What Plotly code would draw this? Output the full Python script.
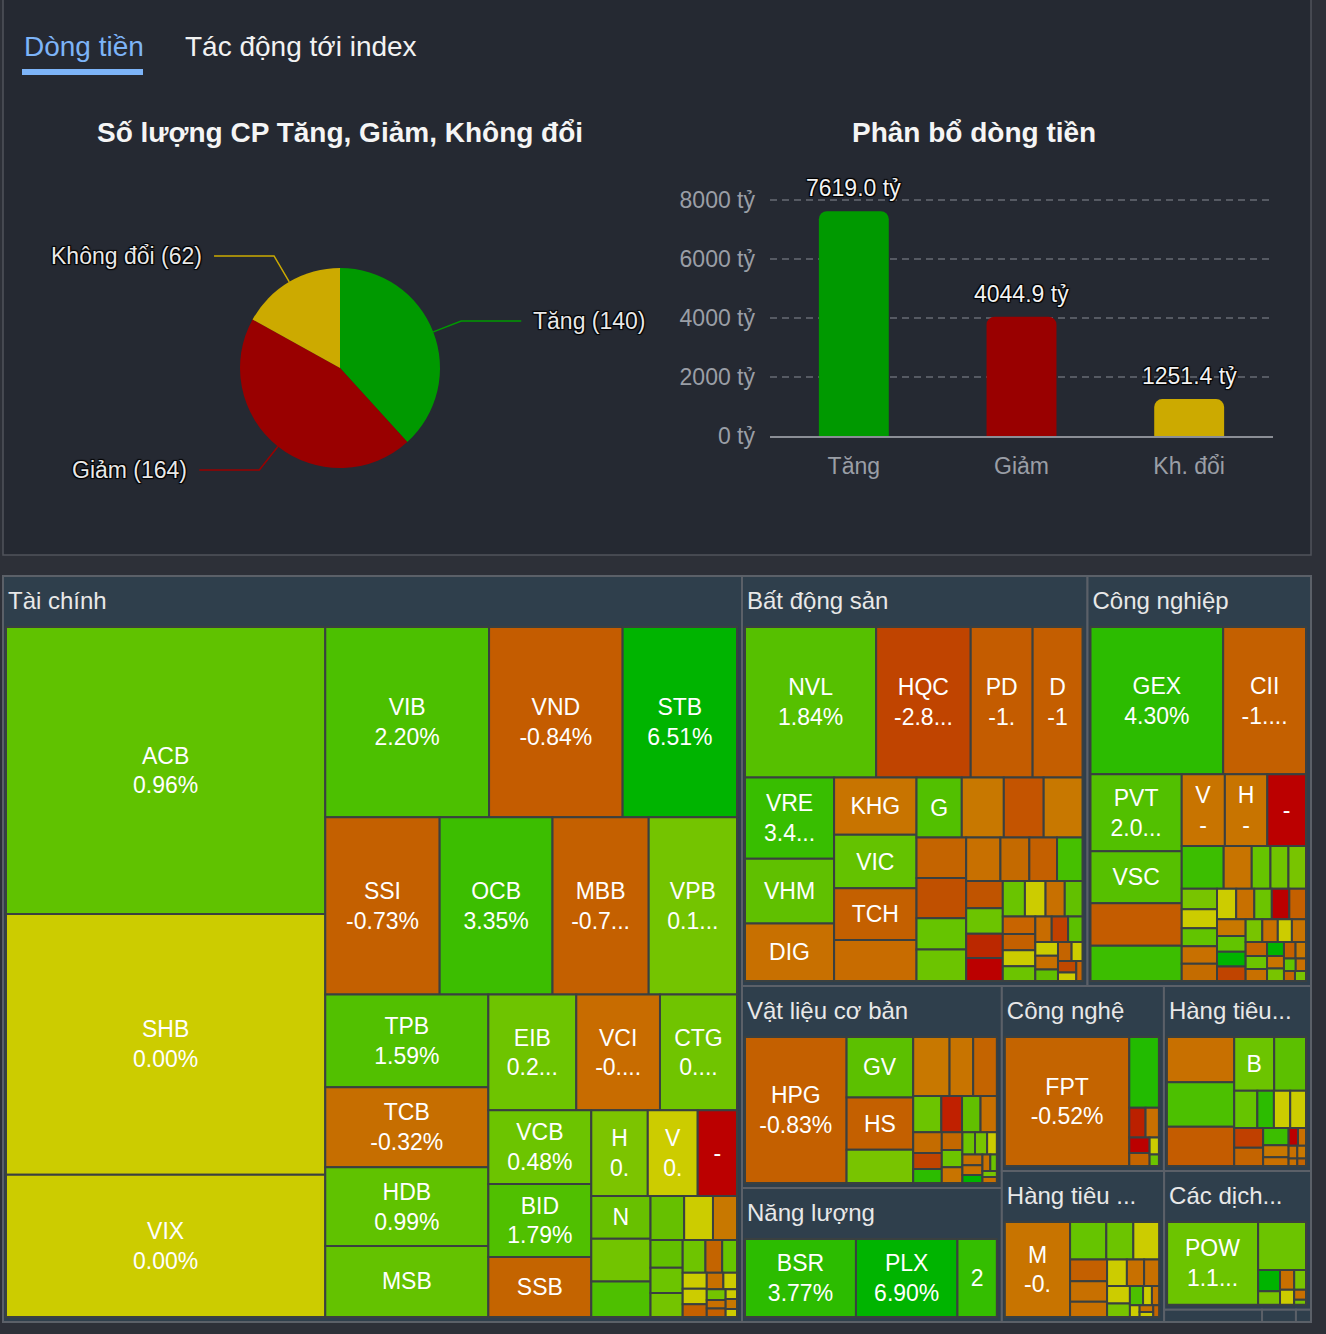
import math
import plotly.graph_objects as go

W, H = 1326, 1334

# ---------------- data ----------------
tab_labels = ["Dòng tiền", "Tác động tới index"]
pie_title = "Số lượng CP Tăng, Giảm, Không đổi"
bar_title = "Phân bổ dòng tiền"

pie_labels = ["Tăng", "Giảm", "Không đổi"]
pie_counts = [140, 164, 62]
pie_colors = ["#009900", "#990000", "#ccaa00"]

bar_cats = ["Tăng", "Giảm", "Kh. đổi"]
bar_values = [7619.0, 4044.9, 1251.4]
bar_ticks = [0, 2000, 4000, 6000, 8000]
bar_ticktext = ["0 tỷ", "2000 tỷ", "4000 tỷ", "6000 tỷ", "8000 tỷ"]

sector_names = ["Tài chính", "Bất động sản", "Công nghiệp", "Vật liệu cơ bản", "Năng lượng",
                "Công nghệ", "Hàng tiêu...", "Hàng tiêu ...", "Các dịch...", "", "", ""]

# treemap cell values (tỷ), labels and colours per sector
tc_vals = [1305, 1186, 647, 444, 362, 310, 289, 285, 243, 223, 215, 186, 183, 165, 145, 138, 127, 108, 107, 88,
           69, 61, 48, 36, 36, 30, 21, 18, 15, 12.7, 11.6, 11, 10.6, 7.8, 6.9, 5.5, 5.3, 4.4, 3.9, 3.2, 2.9,
           2.3, 2.3, 1.6, 1.6, 1.3]
tc_text = ["ACB<br>0.96%", "SHB<br>0.00%", "VIX<br>0.00%", "VIB<br>2.20%", "VND<br>-0.84%", "STB<br>6.51%",
           "SSI<br>-0.73%", "OCB<br>3.35%", "MBB<br>-0.7...", "VPB<br>0.1...", "TPB<br>1.59%", "TCB<br>-0.32%",
           "HDB<br>0.99%", "MSB", "EIB<br>0.2...", "VCI<br>-0....", "CTG<br>0....", "VCB<br>0.48%",
           "BID<br>1.79%", "SSB", "H<br>0.", "V<br>0.", "-", "N"] + [""] * 22
tc_cols = ["#60c200", "#cccc00", "#cccc00", "#4cc000", "#c45c00", "#00b400", "#c46000", "#3cbe00", "#c46000",
           "#74c400", "#52c000", "#c66e00", "#60c200", "#64c200", "#6ec400", "#c86c00", "#70c400", "#6cc400",
           "#50c000", "#c46400", "#7cc400", "#cccc00", "#bb0000", "#68c000",
           "#72c400", "#4ec000", "#66c000", "#cccc00", "#c87800", "#62c000", "#6cc400", "#74c400", "#6ec400",
           "#c46400", "#66c400", "#cccc00", "#cccc00", "#c46000", "#c87000", "#cccc00", "#74c400", "#c87000",
           "#c46000", "#cccc00", "#c87800", "#cccc00"]

bds_vals = [305, 220, 144, 116, 112, 89, 79, 73, 68, 66, 52, 42, 39, 37, 36, 31, 31, 24, 24, 23,
            19.4, 18.6, 17.1, 15.4, 14.5, 13.7, 12.9, 12.1, 11.3, 10.5, 9.7, 8.9, 8.1, 8.1, 7.3, 6.5, 6.5,
            5.7, 4.8, 4.8, 4, 4, 3.2, 3.2, 2.4, 1.9]
bds_text = ["NVL<br>1.84%", "HQC<br>-2.8...", "PD<br>-1.", "D<br>-1", "VRE<br>3.4...", "VHM", "DIG", "KHG",
            "VIC", "TCH", "", "G"] + [""] * 34
bds_cols = ["#56c000", "#c04400", "#c45c00", "#c45e00", "#38be00", "#60c000", "#c87000", "#c87400", "#64c200",
            "#c46000", "#c86c00",
            "#52c000", "#c87800", "#c45400", "#c87800", "#c46400", "#c05000", "#66c400", "#6cc400", "#c87000",
            "#c46a00", "#c46000", "#46c000", "#c05400", "#6cc400", "#bb2800", "#bb0000", "#6ac400", "#cccc00",
            "#c87000", "#62c000", "#c86400", "#c46000", "#cccc00", "#6cc400", "#c86c00", "#c04000", "#5cc000",
            "#cccc00", "#c87000", "#60c000", "#c46400", "#cccc00", "#c04800", "#cccc00", "#c86400"]

cn_vals = [306, 191, 110, 74, 61, 50, 48.5, 47.7, 43.5, 28, 18.7, 12.5, 12, 11.7, 11.4, 10.4, 10, 9.7, 9.4,
           9.2, 8.7, 8.4, 8.4, 8, 7.5, 7, 6.7, 6.4, 5.9, 5.5, 5, 5, 4.7, 4.3, 4, 3.7, 3.3, 3.3, 3, 2.7, 2.3,
           2, 1.7, 1.7]
cn_text = ["GEX<br>4.30%", "CII<br>-1....", "PVT<br>2.0...", "VSC", "", "", "V<br>-", "H<br>-", "-"] + [""] * 35
cn_cols = ["#2cbc00", "#c46000", "#52c000", "#56c000", "#c45c00", "#3cbe00", "#c87400", "#c87400", "#bb0000",
           "#3cbe00", "#c87400", "#66c400", "#70c400", "#78c400", "#78c400", "#cccc00", "#62c400", "#c87000",
           "#c46c00", "#cccc00", "#c87000", "#6cc400", "#bb0000", "#c46000", "#c87800", "#62c400", "#00b400",
           "#c04400", "#78c400", "#c87000", "#cccc00", "#c87400", "#c46400", "#6cc400", "#c87000", "#00b400",
           "#c87400", "#78c400", "#c46000", "#c87800", "#62c400", "#c87000", "#c46400", "#78c400"]

vl_vals = [276, 75, 65, 41, 40, 26, 26, 19, 14, 12.5, 11, 11, 8.5, 7.4, 6.8, 6.6, 6, 5.2,
           5, 4, 4, 3.6, 3, 2.4, 2, 1.6, 1.6]
vl_text = ["HPG<br>-0.83%", "GV", "HS"] + [""] * 24
vl_cols = ["#c46000", "#5cc000", "#c46000", "#78c400",
           "#c87800", "#c87400", "#c46400", "#6cc400", "#c02000", "#62c000", "#c87000", "#c46c00", "#c04400",
           "#2cbc00", "#c46800", "#6cc400", "#c87400", "#6cc400", "#78c400", "#cccc00", "#c87000", "#c87000",
           "#00b400", "#c87000", "#6cc400", "#78c400", "#c87000"]

nl_vals = [200, 183, 71]
nl_text = ["BSR<br>3.77%", "PLX<br>6.90%", "2"]
nl_cols = ["#2cbc00", "#00b400", "#34be00"]

cng_vals = [316, 41.3, 9.5, 7.8, 6.2, 5.2, 3.1, 2.1]
cng_text = ["FPT<br>-0.52%"] + [""] * 7
cng_cols = ["#c46400", "#22bb00", "#bb2000", "#c87000", "#bb0000", "#c46400", "#cccc00", "#6cc400"]

ht1_vals = [60.4, 59.1, 52.3, 42.5, 33.8, 17, 12.2, 12, 11.6, 11.3, 10.5, 8.7, 6.1, 4.4, 3.3, 2.8, 2.2, 2.2,
            1.3, 1.3]
ht1_text = ["", "", "", "B"] + [""] * 16
ht1_cols = ["#c87000", "#4cc000", "#c45c00", "#6cc400", "#5cc000", "#66c400", "#2cbc00", "#cccc00", "#cccc00",
            "#c04000", "#c46400", "#3cbe00", "#c87800", "#c87000", "#bb0000", "#c87000", "#c87000", "#c87800",
            "#c87000", "#c46400"]

ht2_vals = [135, 29.5, 22, 21, 17.5, 16.7, 12.2, 11.5, 10, 8.7, 8.7, 6.7, 5.5, 3.7, 3, 2.5, 2, 1.5, 1.5]
ht2_text = ["M<br>-0."] + [""] * 18
ht2_cols = ["#c87400", "#66c400", "#6cc400", "#cccc00", "#c46000", "#c87000", "#c87000", "#cccc00", "#c87000",
            "#c87000", "#cccc00", "#78c400", "#4cc000", "#cccc00", "#c87000", "#cccc00", "#c87000", "#cccc00",
            "#c46400"]

cd_vals = [174, 53, 10.8, 6.8, 6.5, 5.4, 4.9, 2.7, 1.4]
cd_text = ["POW<br>1.1..."] + [""] * 8
cd_cols = ["#6cc400", "#6cc400", "#00b400", "#78c400", "#c87000", "#78c400", "#cccc00", "#c87000", "#78c400"]

yt_vals, yt_text, yt_cols = [15.6], [""], ["#6cc400"]
tt_vals, tt_text, tt_cols = [5.4], [""], ["#c87000"]
vt_vals, vt_text, vt_cols = [2.4], [""], ["#cccc00"]

sector_children = [(tc_vals, tc_text, tc_cols), (bds_vals, bds_text, bds_cols), (cn_vals, cn_text, cn_cols),
                   (vl_vals, vl_text, vl_cols), (nl_vals, nl_text, nl_cols), (cng_vals, cng_text, cng_cols),
                   (ht1_vals, ht1_text, ht1_cols), (ht2_vals, ht2_text, ht2_cols), (cd_vals, cd_text, cd_cols),
                   (yt_vals, yt_text, yt_cols), (tt_vals, tt_text, tt_cols), (vt_vals, vt_text, vt_cols)]

# ---------------- styles ----------------
FONT = "Liberation Sans, Arial, Helvetica, sans-serif"
PAGE_BG = "#2d3038"
PANEL_BG = "#252932"
SECTOR_BG = "#2f3f4c"
OUTLINE = "-1px -1px 1px #000, 1px -1px 1px #000, -1px 1px 1px #000, 1px 1px 1px #000"
PAD = dict(t=51, l=3, r=5, b=5)
HEAD_PAD = dict(t=51, l=3, r=5, b=0)
HEAD_DX, HEAD_DY = 2, 8   # nudge of the header labels (px)


def px(x):
    return x / W


def py(y):
    return 1 - y / H


fig = go.Figure()

# ---------------- pie ----------------
pie_x0, pie_x1, pie_y0, pie_y1 = 240, 440, 268, 468
fig.add_trace(go.Pie(
    labels=pie_labels, values=pie_counts, sort=False, direction="clockwise", rotation=0,
    marker=dict(colors=pie_colors, line=dict(width=0)), textinfo="none", hoverinfo="skip",
    domain=dict(x=[px(pie_x0), px(pie_x1)], y=[py(pie_y1), py(pie_y0)]), showlegend=False))

shapes = []
annotations = []
cx, cy = (pie_x0 + pie_x1) / 2, (pie_y0 + pie_y1) / 2
r = (pie_x1 - pie_x0) / 2
total = sum(pie_counts)
cum = 0
for lab, cnt, col in zip(pie_labels, pie_counts, pie_colors):
    mid = (cum + cnt / 2) / total * 2 * math.pi
    cum += cnt
    s, c = math.sin(mid), math.cos(mid)
    ex, ey = cx + r * s, cy - r * c
    bx, by = cx + (r + 30) * s, cy - (r + 30) * c
    side = 1 if s > 0 else -1
    hx = bx + side * 60
    shapes.append(dict(type="path", xref="paper", yref="paper",
                       path=f"M {px(ex)} {py(ey)} L {px(bx)} {py(by)} L {px(hx)} {py(by)}",
                       line=dict(color=col, width=1.5)))
    annotations.append(dict(x=px(hx + side * 10), y=py(by), xref="paper", yref="paper",
                            text=f"{lab} ({cnt})", showarrow=False,
                            xanchor="left" if side > 0 else "right", yanchor="middle",
                            font=dict(size=23, color="#e8e8e8", family=FONT, shadow=OUTLINE)))

# ---------------- bar ----------------
fig.add_trace(go.Bar(
    x=bar_cats, y=bar_values, marker=dict(color=pie_colors, line=dict(width=0)),
    hoverinfo="skip", showlegend=False))
for cat, v in zip(bar_cats, bar_values):
    annotations.append(dict(x=cat, y=v, xref="x", yref="y", text=f"{v:.1f} tỷ", showarrow=False,
                            xanchor="center", yanchor="middle", yshift=23,
                            font=dict(size=23, color="#f2f2f2", family=FONT, shadow=OUTLINE)))

# ---------------- treemap ----------------
ids, parents, values = [], [], []
colors, texts, lcols, lwidths = [], [], [], []
head_labels, cell_labels = [], []
for si, name in enumerate(sector_names):
    sid = f"S{si}"
    ids.append(sid); parents.append(""); values.append(0)
    colors.append(SECTOR_BG); texts.append(""); lcols.append("#5b6068"); lwidths.append(2)
    head_labels.append(name); cell_labels.append(" ")
    vals, txts, cols = sector_children[si]
    for ci, (v, t, col) in enumerate(zip(vals, txts, cols)):
        ids.append(f"{sid}_{ci}"); parents.append(sid); values.append(v)
        colors.append(col); texts.append(t); lcols.append("#3a4040"); lwidths.append(2)
        head_labels.append(" "); cell_labels.append(" ")

# the treemap root pads its content; widen the domain so the sectors fill 3..1311 x 576..1322
tm_domain = dict(x=[px(3 - PAD["l"]), px(1311 + PAD["r"])], y=[py(1322 + PAD["b"]), py(576 - PAD["t"])])
head_domain = dict(x=[px(3 - HEAD_PAD["l"] + HEAD_DX), px(1311 + HEAD_PAD["r"] + HEAD_DX)],
                   y=[py(1322 + HEAD_PAD["b"] + HEAD_DY), py(576 - HEAD_PAD["t"] + HEAD_DY)])
common = dict(ids=ids, parents=parents, values=values, branchvalues="remainder", sort=True,
              tiling=dict(packing="squarify", squarifyratio=1.618, pad=0),
              pathbar=dict(visible=False), hoverinfo="skip")

# cells with centred labels
fig.add_trace(go.Treemap(
    labels=cell_labels, text=texts, texttemplate="%{text}", textposition="middle center",
    textfont=dict(size=23, color="#ffffff", family=FONT), domain=tm_domain,
    marker=dict(colors=colors, line=dict(color=lcols, width=lwidths), pad=PAD), **common))

# transparent overlay carrying the left-aligned sector headers
fig.add_trace(go.Treemap(
    labels=head_labels, text=[""] * len(ids), texttemplate="%{text}", textposition="top left",
    textfont=dict(size=24, color="#e8e8e8", family=FONT), domain=head_domain,
    marker=dict(colors=["rgba(0,0,0,0)"] * len(ids), line=dict(width=0), pad=HEAD_PAD), **common))

# ---------------- decorations ----------------
shapes.insert(0, dict(type="rect", xref="paper", yref="paper", x0=px(3), x1=px(1311), y0=py(555), y1=py(-10),
                      fillcolor=PANEL_BG, line=dict(color="#50535b", width=1.5), layer="below"))
shapes.append(dict(type="rect", xref="paper", yref="paper", x0=px(22), x1=px(143), y0=py(75), y1=py(69),
                   fillcolor="#7db4f8", line=dict(width=0)))

annotations += [
    dict(x=px(22), y=py(47), text=tab_labels[0], xanchor="left", yanchor="middle",
         font=dict(size=28, color="#7db4f8", family=FONT)),
    dict(x=px(183), y=py(47), text=tab_labels[1], xanchor="left", yanchor="middle",
         font=dict(size=28, color="#f2f2f2", family=FONT)),
    dict(x=px(340), y=py(132), text=f"<b>{pie_title}</b>", xanchor="center", yanchor="middle",
         font=dict(size=28, color="#f5f5f5", family=FONT)),
    dict(x=px(974), y=py(132), text=f"<b>{bar_title}</b>", xanchor="center", yanchor="middle",
         font=dict(size=28, color="#f5f5f5", family=FONT)),
]
for a in annotations:
    a.setdefault("xref", "paper"); a.setdefault("yref", "paper"); a.setdefault("showarrow", False)

# y range a little above 8000 so the 8000 grid line is drawn; domain top keeps 8000 at y=200 px
y_top = 8100
y_dom_top = 436 - (436 - 200) * y_top / bar_ticks[-1]

fig.update_layout(
    width=W, height=H, margin=dict(l=0, r=0, t=0, b=0, pad=0, autoexpand=False),
    paper_bgcolor=PAGE_BG, plot_bgcolor="rgba(0,0,0,0)",
    font=dict(family=FONT, color="#e8e8e8"),
    bargap=0.583, barcornerradius=8,
    xaxis=dict(domain=[px(770), px(1273)], showline=True, linecolor="#8b8e96", linewidth=2,
               showgrid=False, ticks="", tickfont=dict(size=23, color="#9a9ea6"), fixedrange=True,
               ticklabelstandoff=8, automargin=False),
    yaxis=dict(domain=[py(436), py(y_dom_top)], range=[0, y_top], tickvals=bar_ticks, ticktext=bar_ticktext,
               showgrid=True, gridcolor="#565a63", griddash="7px,5px", gridwidth=1.5, zeroline=False,
               tickfont=dict(size=23, color="#9a9ea6"), ticklabelstandoff=14, fixedrange=True,
               automargin=False),
    shapes=shapes, annotations=annotations, showlegend=False,
)

fig.write_html("out.html")
